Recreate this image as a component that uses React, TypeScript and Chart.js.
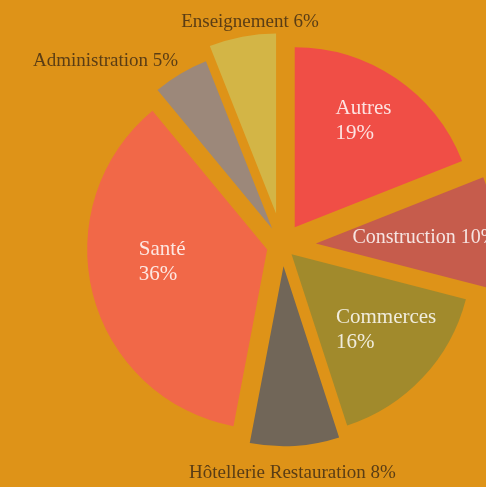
import { useEffect, useRef } from "react";
import { Chart, registerables } from "chart.js";

Chart.register(...registerables);

// ---- data ----
const categories = [
  "Autres",
  "Construction",
  "Commerces",
  "Hôtellerie Restauration",
  "Santé",
  "Administration",
  "Enseignement",
];
const shares = [19, 10, 16, 8, 36, 5, 6];

// ---- styles ----
const BG = "#DE9318";
const sliceColors = ["#F04E46", "#C65C4C", "#A18A2C", "#716658", "#F16848", "#9C887A", "#D3B546"];
const slicePull = [22.3, 33.7, 12.8, 20.7, 15.5, 19.6, 32.7]; // px each slice is pulled out
const labelInside = [true, true, true, false, true, false, false];
const labelTwoLines = [true, false, true, false, true, false, false];
const labelDistance = [0.709, 0.607, 0.667, 1.141, 0.587, 1.075, 1.081];
const labelTurn = [-1.6, 0, -5.2, 1.1, 8.1, 1.5, 3.1];
const labelSize = [21, 20, 21, 19, 21, 19, 19];
const INSIDE_COLOR = "rgba(255,255,255,0.84)";
const OUTSIDE_COLOR = "#5A3D15";
const FONT = '"Liberation Serif", serif';
const LINE_H = 25;

// Chart.js enlarges and narrows offset slices; keep a pure translation.
const pureOffsetPlugin = {
  id: "pureOffset",
  afterDatasetUpdate(chart: any, args: any) {
    const meta = chart.getDatasetMeta(args.index);
    meta.data.forEach((el: any) => {
      el.circumference = Math.PI / 2;
    });
  },
};

const labelPlugin = {
  id: "sliceLabels",
  afterDatasetsDraw(chart: any) {
    const ctx = chart.ctx;
    const meta = chart.getDatasetMeta(0);
    ctx.save();
    meta.data.forEach((el: any, i: number) => {
      const mid = (el.startAngle + el.endAngle) / 2;
      const t = slicePull[i];
      const ax = el.x + Math.cos(mid) * t;
      const ay = el.y + Math.sin(mid) * t;
      const a = mid + (labelTurn[i] * Math.PI) / 180;
      const r = labelDistance[i] * el.outerRadius;
      const px = ax + Math.cos(a) * r;
      const py = ay + Math.sin(a) * r;
      const size = labelSize[i];
      const cap = size * 0.66;
      ctx.font = `${size}px ${FONT}`;
      ctx.textBaseline = "alphabetic";
      const pct = `${shares[i]}%`;
      if (labelInside[i]) {
        ctx.fillStyle = INSIDE_COLOR;
        const lines = labelTwoLines[i] ? [categories[i], pct] : [`${categories[i]} ${pct}`];
        const w = Math.max(...lines.map((l) => ctx.measureText(l).width));
        const left = px - w / 2;
        const first = py + cap / 2 - ((lines.length - 1) * LINE_H) / 2;
        ctx.textAlign = "left";
        lines.forEach((l, k) => ctx.fillText(l, left, first + k * LINE_H));
      } else {
        ctx.fillStyle = OUTSIDE_COLOR;
        const dx = Math.cos(a);
        ctx.textAlign = dx < -0.3 ? "right" : dx > 0.3 ? "left" : "center";
        ctx.fillText(`${categories[i]} ${pct}`, px, py + cap / 2);
      }
    });
    ctx.restore();
  },
};

export default function App() {
  const ref = useRef<HTMLCanvasElement>(null);
  useEffect(() => {
    const chart = new Chart(ref.current as HTMLCanvasElement, {
      type: "pie",
      data: {
        labels: categories,
        datasets: [
          {
            data: shares,
            backgroundColor: sliceColors,
            borderWidth: 0,
            offset: slicePull.map((v) => v * 4),
            hoverOffset: 0,
            radius: 180,
            clip: false,
          } as any,
        ],
      },
      options: {
        responsive: false,
        animation: false,
        events: [],
        radius: 180,
        layout: { padding: { left: 78.4, top: 4.2, right: 0, bottom: 0 } },
        plugins: { legend: { display: false }, tooltip: { enabled: false } },
      } as any,
      plugins: [pureOffsetPlugin, labelPlugin],
    });
    return () => chart.destroy();
  }, []);
  return (
    <div style={{ position: "fixed", left: 0, top: 0, width: 486, height: 487, background: BG, overflow: "hidden" }}>
      <canvas ref={ref} width={486} height={487} style={{ display: "block", width: 486, height: 487 }} />
    </div>
  );
}
